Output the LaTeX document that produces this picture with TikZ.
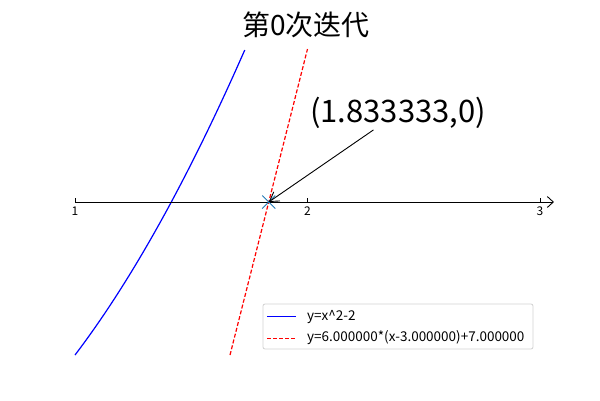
\documentclass[tikz,border=0pt]{standalone}
\usepackage{fontspec}
\setmainfont{Noto Sans CJK SC}
\usetikzlibrary{arrows.meta}
\definecolor{tabblue}{HTML}{1F77B4}
\begin{document}
\begin{tikzpicture}[
  x=1pt, y=-1pt,
  title/.style={font=\fontsize{28}{30}\selectfont},
  anno/.style={font=\fontsize{31}{33}\selectfont, inner sep=1pt},
  ticklab/.style={font=\fontsize{12}{13}\selectfont, anchor=north, inner sep=1pt},
  legtext/.style={font=\fontsize{13.5}{15}\selectfont, anchor=west, inner sep=0pt},
  legbox/.style={draw=black!18, rounded corners=2pt, line width=0.8pt, minimum width=270pt, minimum height=45pt},
  axisarrow/.style={-{Straight Barb[length=6pt,width=11pt]}, line width=0.9pt},
  arrow/.style={-{Straight Barb[length=9pt,width=11pt]}, line width=0.9pt},
  fcurve/.style={blue, line width=1.2pt},
  tangent/.style={red, dashed, dash pattern=on 4pt off 2pt, line width=1.2pt},
  marker/.style={tabblue, line width=1pt}
]
\useasboundingbox (0,0) rectangle (600,400);

% Title
\node[title] (ttl) at (306,25) {第0次迭代};

% Data (x from 1 to 3, y from -1 to 1)
\begin{scope}[shift={(-157.5,202)}, x=232.5pt, y=153pt]
  \coordinate (axstart) at (1,0);
  \coordinate (axend) at (3.06,0);
  \coordinate (root) at (1.833333,0);
  \draw[fcurve] plot[domain=1:1.7305, samples=60, smooth] (\x,{\x*\x-2});
  \draw[tangent] (1.666667,-1) -- (2,1);
  \draw[axisarrow] (axstart) -- (axend);
  \foreach \t in {1,2,3} {
    \draw[line width=0.8pt] (\t,0) -- ++(0,4pt);
    \node[ticklab] (tick\t) at (\t,-3.5pt) {\t};
  }
\end{scope}

% Root marker
\draw[marker] (root) ++(-6.5,-6.5) -- ++(13,13);
\draw[marker] (root) ++(-6.5,6.5) -- ++(13,-13);

% Annotation
\node[anno] (lbl) at (398,113) {(1.833333,0)};
\draw[arrow] (lbl) -- (root);

% Legend
\node[legbox] (leg) at (398,326.5) {};
\draw[fcurve] (267,316.5) -- (296,316.5);
\draw[tangent] (267,338.5) -- (296,338.5);
\node[legtext] (leg1) at (307,317) {y=x\textasciicircum 2-2};
\node[legtext] (leg2) at (307,338) {y=6.000000*(x-3.000000)+7.000000};

\end{tikzpicture}
\end{document}
